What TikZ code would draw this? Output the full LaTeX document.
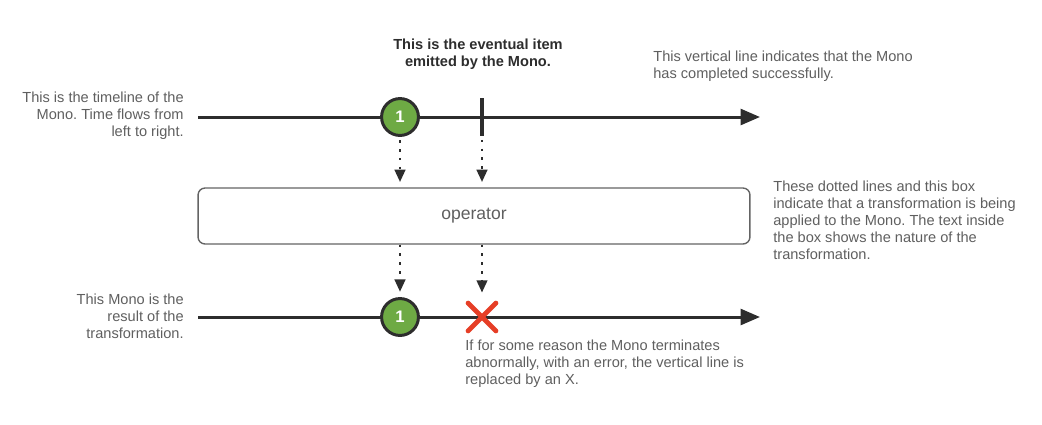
\documentclass[tikz,border=0pt]{standalone}
\usepackage{fontspec}
\setmainfont{Liberation Sans}
\usetikzlibrary{arrows.meta,shapes.misc,positioning}
\usepackage{xcolor}
\frenchspacing
\definecolor{mngreen}{RGB}{110,170,68}
\definecolor{mndark}{RGB}{45,45,45}
\definecolor{mngray}{RGB}{95,95,95}
\definecolor{mnred}{RGB}{230,62,38}
\definecolor{mnbox}{RGB}{100,100,100}
\tikzstyle{timeline} = [line width=1.7pt,-{Triangle[length=11pt,width=9pt]},color=mndark]
\tikzstyle{dotarrow} = [line width=1.4pt,dash pattern=on 1.4pt off 3.6pt,-{Triangle[length=7pt,width=6pt]},color=mndark]

\begin{document}
\begin{tikzpicture}[x=0.02cm, y=-0.02cm,
    item/.style={circle, draw=mndark, fill=mngreen, line width=1.7pt, minimum size=21pt, inner sep=0pt, text=white, font=\bfseries\fontsize{9.5}{10}\selectfont},
    note/.style={text=mngray, inner sep=0pt, font=\fontsize{8.3}{9.7}\selectfont}]

\useasboundingbox (0,0) rectangle (1042,424);

% Timelines
\coordinate (topstart) at (198,117);
\coordinate (topend) at (760,117);
\coordinate (botstart) at (198,317);
\coordinate (botend) at (760,317);
\draw[timeline] (topstart) -- (topend);
\draw[timeline] (botstart) -- (botend);

% Items and terminal signals
\node[item] (item1) at (400,117) {1};
\node[rectangle, fill=mndark, minimum width=2.8pt, minimum height=21.5pt, inner sep=0pt] (done) at (482,117) {};
\node[item] (itemout) at (400,317) {1};
\node[cross out, draw=mnred, line width=2.8pt, line cap=round, minimum size=13pt, inner sep=0pt] (err) at (482,317) {};

% Operator box
\node[draw=mnbox, line width=0.8pt, rounded corners=4pt, minimum width=11.04cm, minimum height=1.12cm, text=mngray, font=\fontsize{10}{12}\selectfont] (op) at (474,216) {operator};

% Dotted connectors
\draw[dotarrow, shorten <=2pt, shorten >=3pt] (item1) -- (op.north -| item1);
\draw[dotarrow, shorten <=2pt, shorten >=3pt] (done) -- (op.north -| done);
\draw[dotarrow, shorten >=3pt] (op.south -| itemout) -- (itemout);
\draw[dotarrow, shorten >=6pt] (op.south -| err) -- (err);

% Notes
\node[note, align=right, anchor=east] (noteline) at (184,116) {This is the timeline of the\\Mono. Time flows from\\left to right.};
\node[note, align=center, text=mndark, font=\bfseries\fontsize{8.3}{9.7}\selectfont] (noteitem) at (478,54) {This is the eventual item\\emitted by the Mono.};
\node[note, align=left, anchor=west] (notedone) at (653,66) {This vertical line indicates that the Mono\\has completed successfully.};
\node[note, align=left, anchor=west] (noteop) at (773,220) {These dotted lines and this box\\indicate that a transformation is being\\applied to the Mono. The text inside\\the box shows the nature of the\\transformation.};
\node[note, align=right, anchor=east] (noteresult) at (184,316) {This Mono is the\\result of the\\transformation.};
\node[note, align=left, anchor=west] (noteerr) at (465,364) {If for some reason the Mono terminates\\abnormally, with an error, the vertical line is\\replaced by an X.};

\end{tikzpicture}
\end{document}
